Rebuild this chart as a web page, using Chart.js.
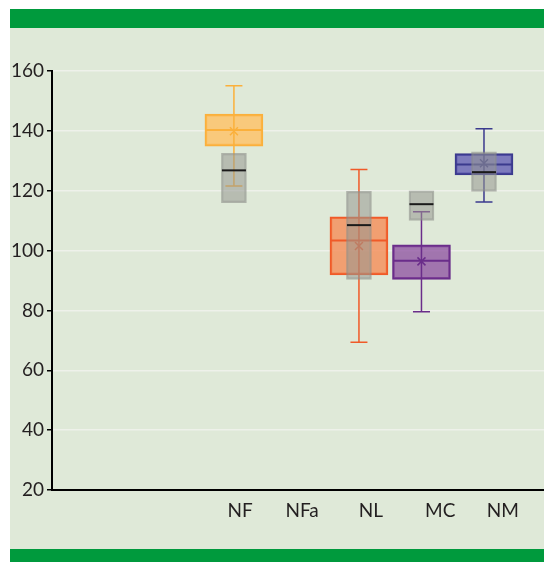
<!DOCTYPE html>
<html>
<head>
<meta charset="utf-8">
<script src="https://cdn.jsdelivr.net/npm/chart.js@4.4.0/dist/chart.umd.min.js"></script>
<style>
body{margin:0;background:#fff;}
#wrap{position:relative;width:544px;height:562px;}
.panel{position:absolute;left:10px;top:9px;width:534px;height:553px;background:#dfe9d8;}
.band-top{position:absolute;left:10px;top:9px;width:534px;height:19px;background:#009a3d;}
.band-bottom{position:absolute;left:10px;top:549px;width:534px;height:13px;background:#009a3d;}
#chart{position:absolute;left:0;top:0;}
</style>
</head>
<body>
<div id="wrap">
	<div class="panel"></div>
	<div class="band-top"></div>
	<div class="band-bottom"></div>
	<canvas id="chart" width="544" height="562"></canvas>
</div>
<script>
// values
var categories = ['NF', 'NFa', 'NL', 'MC', 'NM'];
var whiskerLow = [121.6, null, 69.4, 79.6, 116.2];
var q1 = [134.9, null, 91.9, 90.4, 125.3];
var median = [140.3, null, 103.4, 96.6, 128.8];
var q3 = [145.6, null, 111.3, 101.9, 132.4];
var whiskerHigh = [155.1, null, 127.1, 113.0, 140.7];
var means = [139.9, null, 101.5, 96.4, 129.2];
// grey reference boxes
var refLow = [116.0, null, 90.4, 110.1, 119.8];
var refMedian = [126.8, null, 108.5, 115.5, 126.2];
var refHigh = [132.5, null, 119.8, 120.0, 133.0];
var yTicks = [20, 40, 60, 80, 100, 120, 140, 160];

var fills = ['rgba(255,192,100,0.8)', null, 'rgba(245,140,88,0.8)', 'rgba(140,78,160,0.75)', 'rgba(100,95,182,0.8)'];
var lines = ['#fbb03b', null, '#f05a28', '#6a2d8a', '#3b3a8e'];
var labelShift = [0.1, 0.09, 0.19, 0.3, 0.3];
var fontFamily = 'Lato, "Open Sans", sans-serif';

function boxData(lo, hi){
	var out = [];
	categories.forEach(function(c, i){
		if(lo[i] != null) out.push({x: i, y: [lo[i], hi[i]]});
	});
	return out;
}

var boxExtras = {
	id: 'boxExtras',
	afterDatasetDraw: function(chart, args){
		var ctx = chart.ctx;
		var xs = chart.scales.x, ys = chart.scales.y;
		ctx.save();
		if(args.index === 0){
			categories.forEach(function(c, i){
				if(median[i] == null) return;
				var cx = xs.getPixelForValue(i);
				ctx.strokeStyle = lines[i];
				ctx.lineWidth = 1.5;
				ctx.beginPath();
				ctx.moveTo(cx, ys.getPixelForValue(whiskerLow[i]));
				ctx.lineTo(cx, ys.getPixelForValue(whiskerHigh[i]));
				[whiskerLow[i], whiskerHigh[i]].forEach(function(v){
					var py = ys.getPixelForValue(v);
					ctx.moveTo(cx - 8.5, py);
					ctx.lineTo(cx + 8.5, py);
				});
				ctx.stroke();
				ctx.lineWidth = 2;
				ctx.beginPath();
				var my = ys.getPixelForValue(median[i]);
				ctx.moveTo(cx - 28, my);
				ctx.lineTo(cx + 28, my);
				ctx.stroke();
				ctx.lineWidth = 1.5;
				var ay = ys.getPixelForValue(means[i]);
				ctx.beginPath();
				ctx.moveTo(cx - 4, ay - 4);
				ctx.lineTo(cx + 4, ay + 4);
				ctx.moveTo(cx + 4, ay - 4);
				ctx.lineTo(cx - 4, ay + 4);
				ctx.stroke();
			});
		}
		if(args.index === 1){
			categories.forEach(function(c, i){
				if(refMedian[i] == null) return;
				var cx = xs.getPixelForValue(i);
				var my = ys.getPixelForValue(refMedian[i]);
				ctx.strokeStyle = '#1a1a1a';
				ctx.lineWidth = 2;
				ctx.beginPath();
				ctx.moveTo(cx - 12, my);
				ctx.lineTo(cx + 12, my);
				ctx.stroke();
			});
		}
		ctx.restore();
	}
};

var chart = new Chart(document.getElementById('chart'), {
	type: 'bar',
	data: {
		datasets: [
			{
				label: 'boxes',
				data: boxData(q1, q3),
				backgroundColor: fills.filter(function(f){ return f; }),
				borderColor: lines.filter(function(f){ return f; }),
				borderWidth: 2,
				borderSkipped: false,
				barThickness: 58,
				grouped: false,
				order: 2
			},
			{
				label: 'reference',
				data: boxData(refLow, refHigh),
				backgroundColor: 'rgba(150,152,146,0.55)',
				borderColor: 'rgba(140,142,136,0.6)',
				borderWidth: 1.5,
				borderSkipped: false,
				barThickness: 25,
				grouped: false,
				order: 1
			}
		]
	},
	plugins: [boxExtras],
	options: {
		responsive: false,
		animation: false,
		layout: {padding: {top: 71, left: 0, right: 0, bottom: 0}},
		plugins: {legend: {display: false}, tooltip: {enabled: false}},
		scales: {
			x: {
				type: 'linear',
				min: -2.91,
				max: 4.96,
				offset: false,
				grid: {display: false},
				border: {display: true, color: '#000', width: 2},
				afterBuildTicks: function(scale){
					scale.ticks = categories.map(function(c, i){ return {value: i + labelShift[i]}; });
				},
				afterFit: function(scale){ scale.height = 72; },
				ticks: {
					autoSkip: false,
					maxRotation: 0,
					padding: 1,
					color: '#231f20',
					font: {family: fontFamily, size: 19},
					callback: function(v, idx){ return categories[idx]; }
				}
			},
			y: {
				min: 20,
				max: 160,
				afterBuildTicks: function(scale){
					scale.ticks = yTicks.map(function(v){ return {value: v}; });
				},
				afterFit: function(scale){ scale.width = 52; },
				grid: {color: '#eef1ea', lineWidth: 1.5, tickColor: '#000', tickLength: 5, drawTicks: true},
				border: {display: true, color: '#000', width: 2},
				ticks: {
					padding: 3,
					color: '#231f20',
					font: {family: fontFamily, size: 19}
				}
			}
		}
	}
});
</script>
</body>
</html>
